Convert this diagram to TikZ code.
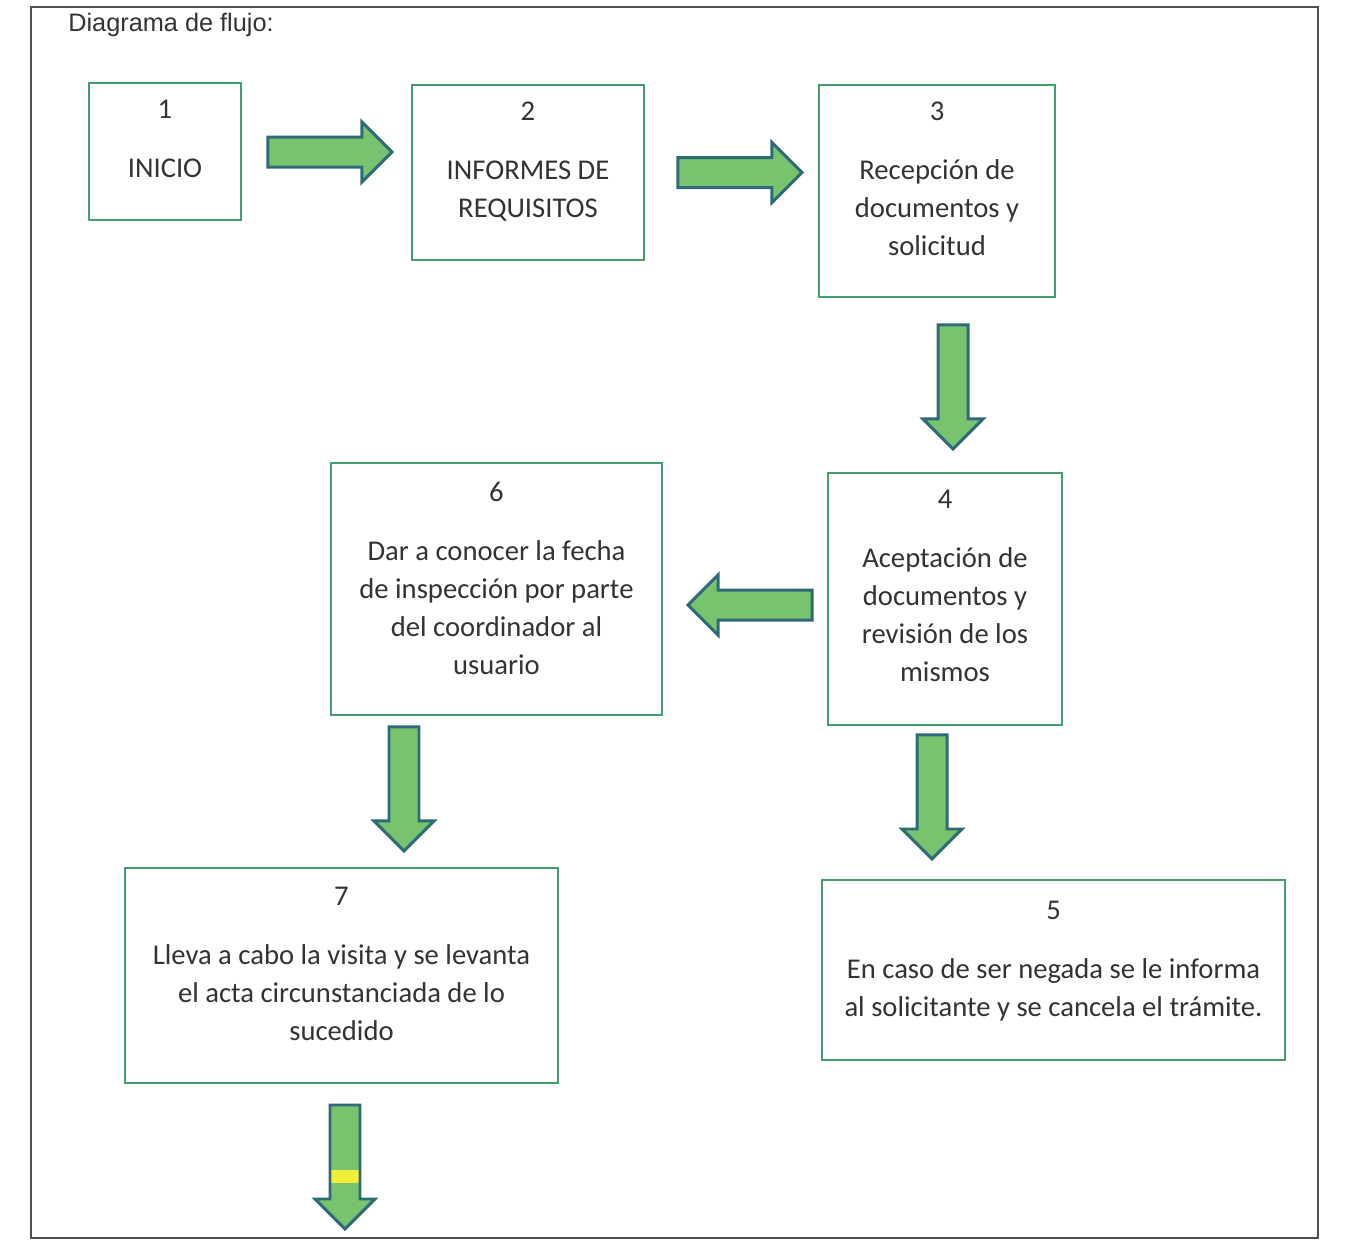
\documentclass[tikz,border=0pt]{standalone}
\usepackage{fontspec}
\setmainfont{Carlito}
\newfontfamily\arialfont{Liberation Sans}
\usetikzlibrary{calc}

\definecolor{boxgreen}{HTML}{43A06E}
\definecolor{arrowfill}{HTML}{78C46E}
\definecolor{arrowline}{HTML}{2F6A78}
\definecolor{bandyellow}{HTML}{F2EE3A}
\definecolor{ink}{HTML}{333333}
\definecolor{framegray}{HTML}{505050}

\tikzset{
  stepbox/.style={draw=boxgreen, line width=1.4pt, fill=white, inner sep=0pt, outer sep=0pt},
  steptext/.style={align=center, inner sep=0pt, text=ink, anchor=north,
    font=\fontsize{16.3pt}{21.6pt}\selectfont},
  arrowbody/.style={fill=arrowfill, draw=arrowline, line width=1.7pt, line join=miter},
  % thick block arrow pointing along local +x, tail at the origin
  blockarrow/.pic={
    \filldraw[arrowbody] (0,-15) -- (94,-15) -- (94,-30) -- (124,0)
      -- (94,30) -- (94,15) -- (0,15) -- cycle;
  },
  % same block arrow with a yellow band across its shaft
  bandedarrow/.pic={
    \fill[arrowfill] (0,-15) -- (94,-15) -- (94,-30) -- (124,0)
      -- (94,30) -- (94,15) -- (0,15) -- cycle;
    \fill[bandyellow] (65,-15) rectangle (78,15);
    \draw[arrowbody, fill=none] (0,-15) -- (94,-15) -- (94,-30) -- (124,0)
      -- (94,30) -- (94,15) -- (0,15) -- cycle;
  }
}

\begin{document}
\begin{tikzpicture}[x=0.02cm, y=-0.02cm]
  \useasboundingbox (0,0) rectangle (1349,1249);

  % page frame and heading
  \draw[framegray, line width=1.1pt] (31,7) rectangle (1318,1238);
  \node[anchor=base west, inner sep=0pt, text=ink,
        font=\arialfont\fontsize{14.4pt}{17pt}\selectfont] (title) at (68,31) {Diagrama de flujo:};

  % process steps
  \node[stepbox, minimum width=3.04cm, minimum height=2.74cm] (b1) at (165,151.5) {};
  \node[stepbox, minimum width=4.64cm, minimum height=3.50cm] (b2) at (528,172.5) {};
  \node[stepbox, minimum width=4.72cm, minimum height=4.24cm] (b3) at (937,191) {};
  \node[stepbox, minimum width=4.68cm, minimum height=5.04cm] (b4) at (945,599) {};
  \node[stepbox, minimum width=6.62cm, minimum height=5.04cm] (b6) at (496.5,589) {};
  \node[stepbox, minimum width=8.66cm, minimum height=4.30cm] (b7) at (341.5,975.5) {};
  \node[stepbox, minimum width=9.26cm, minimum height=3.60cm] (b5) at (1053.5,970) {};

  % step texts
  \node[steptext] (t1) at ($(b1.north)+(0,17)$) {1\\[0.42cm]INICIO};
  \node[steptext] (t2) at ($(b2.north)+(0,17)$) {2\\[0.42cm]INFORMES DE\\REQUISITOS};
  \node[steptext] (t3) at ($(b3.north)+(0,17)$) {3\\[0.42cm]Recepción de\\documentos y\\solicitud};
  \node[steptext] (t4) at ($(b4.north)+(0,17)$) {4\\[0.42cm]Aceptación de\\documentos y\\revisión de los\\mismos};
  \node[steptext] (t6) at ($(b6.north)+(0,19)$) {6\\[0.42cm]Dar a conocer la fecha\\de inspección por parte\\del coordinador al\\usuario};
  \node[steptext] (t7) at ($(b7.north)+(0,19)$) {7\\[0.42cm]Lleva a cabo la visita y se levanta\\el acta circunstanciada de lo\\sucedido};
  \node[steptext] (t5) at ($(b5.north)+(0,21)$) {5\\[0.42cm]En caso de ser negada se le informa\\al solicitante y se cancela el trámite.};

  % flow arrows between steps
  \pic (a12) at ($(b1.east)+(27,0.5)$) {blockarrow};
  \pic (a23) at ($(b2.east)+(34,0)$) {blockarrow};
  \pic[rotate=-90] (a34) at ($(b3.south)+(16,28)$) {blockarrow};
  \pic[rotate=180] (a46) at ($(b4.west)+(-16,6)$) {blockarrow};
  \pic[rotate=-90] (a45) at ($(b4.south)+(-13,10)$) {blockarrow};
  \pic[rotate=-90] (a67) at ($(b6.south)+(-92.5,12)$) {blockarrow};
  \pic[rotate=-90] (a7x) at ($(b7.south)+(3.5,22)$) {bandedarrow};
\end{tikzpicture}
\end{document}
